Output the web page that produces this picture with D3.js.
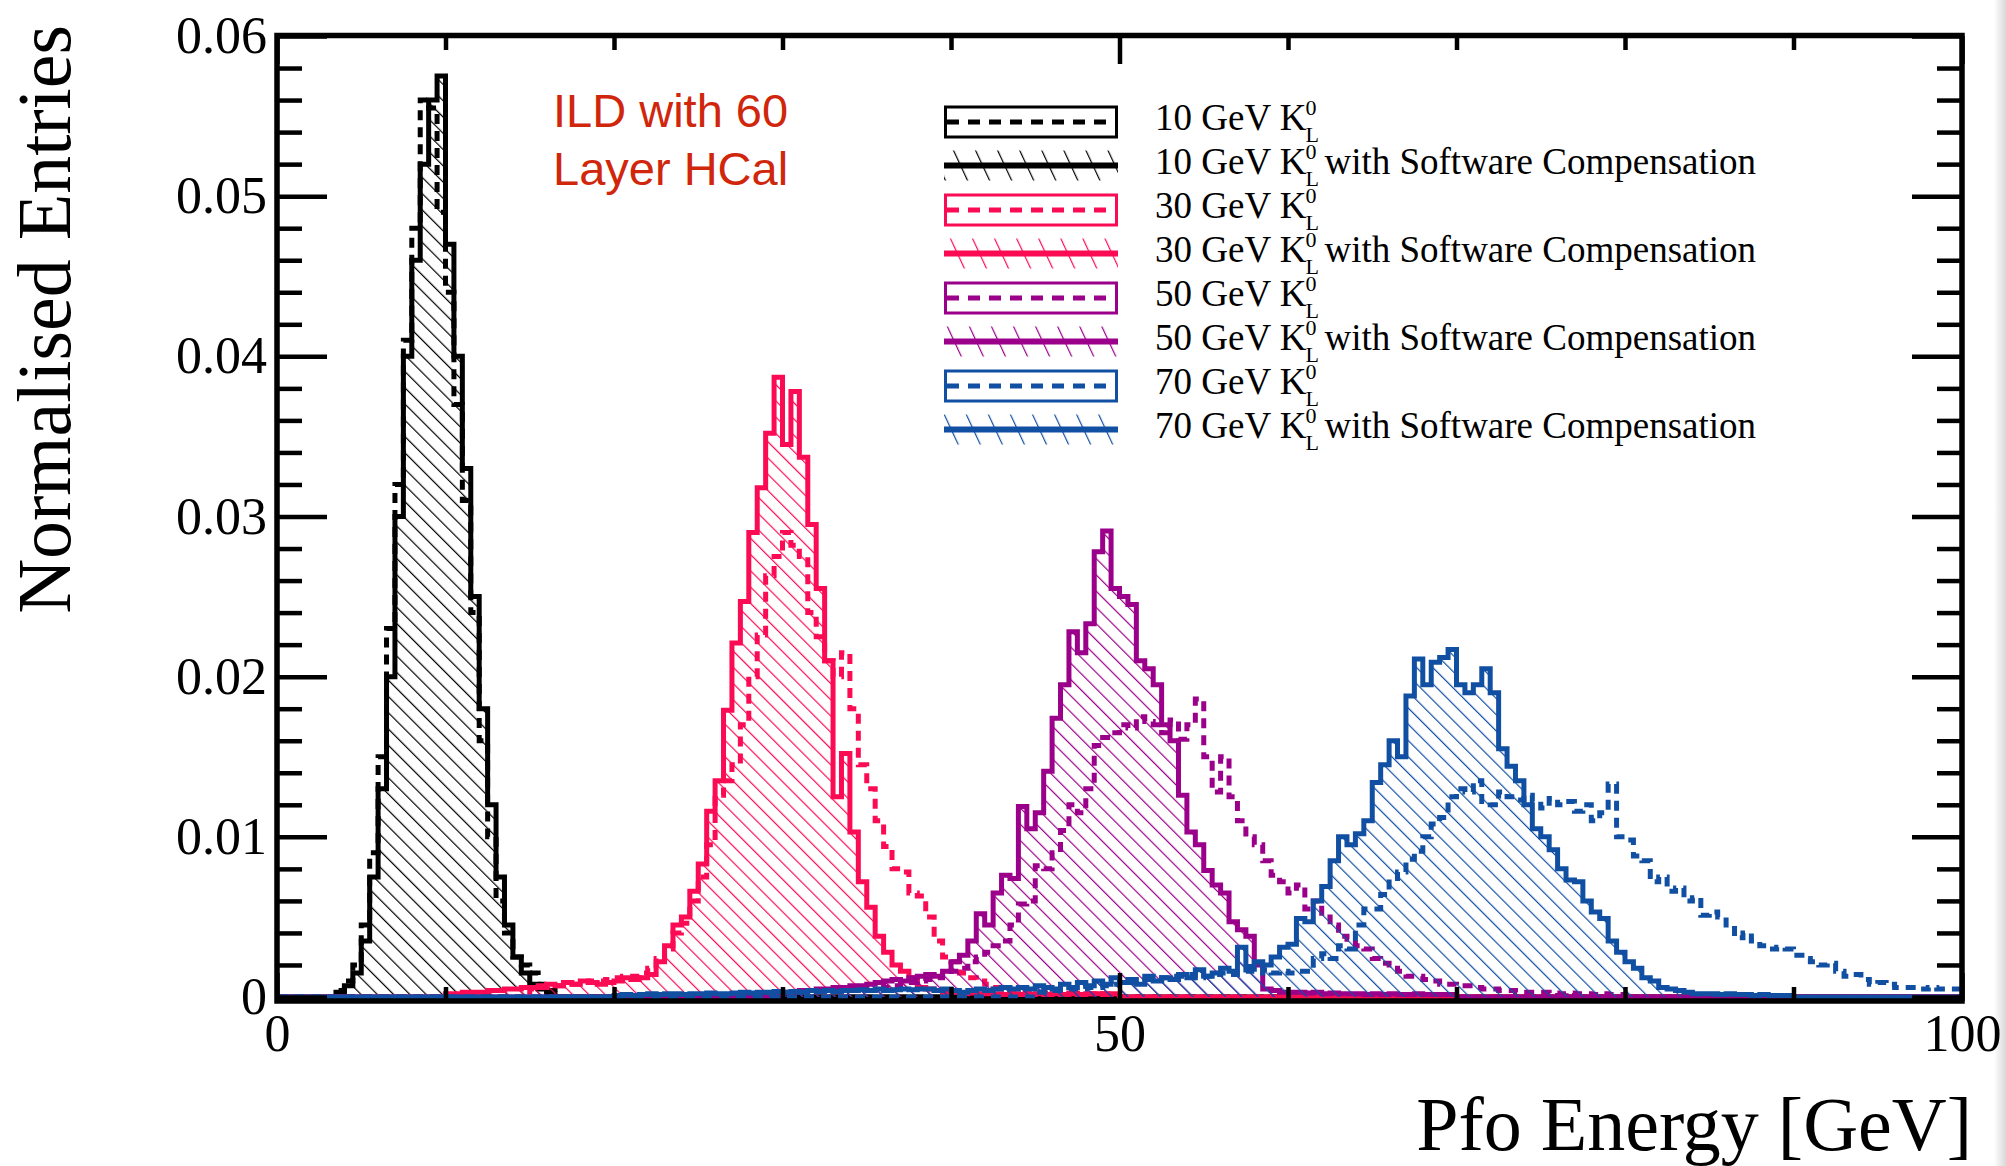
<!DOCTYPE html>
<html>
<head>
<meta charset="utf-8">
<script src="https://cdn.jsdelivr.net/npm/d3@7"></script>
<style>
  body { margin: 0; background: #fff; }
  svg { display: block; }
</style>
</head>
<body>
<svg id="chart" width="2006" height="1166"></svg>
<script>
// histogram binning: 0.5 GeV bins from 0 to 100 GeV
const BIN = 0.5;
const NBINS = 200;

const energyLabels = ["10", "30", "50", "70"];
const lineColors = ["#000000", "#fc0b55", "#9a0089", "#114fa2"];

// bin contents in units of 1e-3, first value belongs to the bin starting at *Start (GeV)
const k10Start = 3.5;
const k10 = [0.4, 1.0, 2.0, 4.5, 9.0, 15.0, 23.0, 32.0, 41.0, 48.0, 56.0, 55.5, 49.0, 44.0, 37.0, 31.0,
  24.0, 16.0, 10.0, 6.0, 4.0, 2.5, 2.0, 1.5, 0.8, 0.4];
const k10SCStart = 3.5;
const k10SC = [0.3, 0.7, 1.5, 3.5, 7.5, 13.0, 20.0, 30.0, 40.0, 46.0, 52.0, 56.0, 57.5, 47.0, 40.0, 33.0,
  25.0, 18.0, 12.0, 7.5, 4.5, 2.5, 1.5, 0.8, 0.5, 0.2];

const k30Start = 15.0;
const k30 = [0.5, 0.6, 0.6, 0.7, 0.8, 0.8, 0.9, 1.0, 1.0, 1.1,
  1.2, 1.3, 1.3, 1.5, 1.8, 2.4, 3.0, 4.0, 4.6, 6.0,
  7.5, 9.5, 12.6, 13.5, 14.5, 17.0, 20.0, 22.6, 26.3, 27.5,
  29.0, 28.2, 27.5, 24.0, 22.5, 21.0, 20.0, 21.5, 18.0, 14.5,
  13.0, 11.0, 9.4, 8.0, 7.8, 6.5, 6.3, 5.0, 3.5, 2.5,
  2.2, 1.5, 1.2, 1.0, 0.8, 0.6, 0.5, 0.4, 0.35, 0.3,
  0.3, 0.25, 0.3, 0.2, 0.25, 0.2, 0.2, 0.15, 0.2, 0.15];
const k30SCStart = 10.0;
const k30SC = [0.2, 0.2, 0.3, 0.3, 0.3, 0.4, 0.4, 0.5, 0.5, 0.6,
  0.6, 0.7, 0.8, 0.7, 0.9, 0.8, 1.0, 0.9, 0.8, 0.9,
  1.0, 1.2, 1.1, 1.2, 1.4, 2.2, 3.2, 4.5, 5.0, 6.6,
  8.3, 11.6, 13.5, 17.9, 22.1, 24.7, 29.0, 31.8, 35.2, 38.7,
  34.5, 37.8, 33.7, 29.5, 25.5, 21.0, 12.5, 15.2, 10.3, 7.2,
  5.6, 3.8, 2.8, 2.0, 1.6, 1.2, 0.6, 0.5, 0.4, 0.3,
  0.3, 0.2, 0.25, 0.2, 0.2, 0.2, 0.15, 0.2, 0.15, 0.15,
  0.2, 0.15, 0.2, 0.15, 0.2, 0.15, 0.2, 0.2, 0.15, 0.2];

const k50Start = 35.0;
const k50 = [0.4, 0.5, 0.6, 0.7, 0.8, 0.9, 1.0, 1.1, 1.2, 1.4,
  1.6, 1.8, 2.2, 2.5, 2.8, 3.2, 3.5, 4.5, 5.8, 6.0,
  8.2, 8.0, 9.0, 10.4, 12.0, 11.5, 13.0, 15.7, 16.2, 16.5,
  17.0, 16.8, 17.5, 17.2, 17.0, 16.5, 17.3, 16.1, 17.0, 18.6,
  15.0, 12.8, 15.0, 12.5, 11.0, 10.0, 9.5, 8.5, 7.6, 7.2,
  6.5, 7.0, 5.5, 6.0, 5.0, 4.5, 3.8, 3.6, 3.2, 3.0,
  2.4, 2.1, 2.0, 1.6, 1.3, 1.3, 1.1, 1.0, 0.8, 0.8,
  0.7, 0.7, 0.6, 0.5, 0.5, 0.4, 0.4, 0.3, 0.3, 0.3,
  0.3, 0.25, 0.2, 0.25, 0.2, 0.2, 0.15, 0.2, 0.15, 0.15];
const k50SCStart = 30.0;
const k50SC = [0.3, 0.3, 0.4, 0.4, 0.5, 0.5, 0.6, 0.6, 0.7, 0.7,
  0.8, 0.9, 1.0, 1.1, 1.0, 1.2, 1.3, 1.4, 1.3, 1.6,
  2.2, 2.6, 3.5, 5.2, 4.5, 6.5, 7.6, 7.4, 11.9, 10.5,
  11.5, 14.1, 17.4, 19.5, 22.8, 21.5, 23.3, 27.8, 29.1, 25.5,
  25.0, 24.5, 21.0, 20.5, 19.5, 17.0, 16.0, 12.6, 10.3, 9.5,
  7.9, 7.0, 6.5, 4.7, 4.2, 3.8, 2.0, 0.5, 0.4, 0.3,
  0.3, 0.3, 0.25, 0.3, 0.2, 0.25, 0.2, 0.2, 0.2, 0.15,
  0.2, 0.15, 0.2, 0.15, 0.15, 0.2, 0.15, 0.15, 0.15, 0.15];

const k70Start = 45.0;
const k70 = [0.3, 0.3, 0.4, 0.4, 0.5, 0.5, 0.6, 0.6, 0.7, 0.8,
  0.9, 0.9, 1.0, 1.1, 1.1, 1.2, 1.3, 1.3, 1.4, 1.2,
  1.3, 1.4, 1.5, 1.4, 1.5, 1.6, 1.5, 1.7, 1.5, 1.6,
  1.5, 1.6, 1.6, 2.4, 2.7, 2.4, 3.2, 3.0, 4.5, 5.5,
  5.5, 6.4, 7.4, 7.8, 8.6, 9.1, 10.0, 10.8, 11.2, 12.5,
  13.0, 12.8, 13.5, 12.2, 12.0, 12.8, 12.5, 12.3, 12.6, 12.2,
  11.8, 12.4, 12.0, 12.2, 11.6, 12.0, 11.0, 11.5, 13.3, 10.0,
  9.8, 8.8, 8.5, 7.2, 7.5, 6.6, 6.8, 6.0, 6.2, 5.1,
  5.3, 5.0, 4.5, 3.7, 4.0, 3.5, 3.2, 3.0, 3.1, 3.0,
  2.6, 2.4, 2.2, 2.0, 2.1, 1.6, 1.3, 1.4, 1.1, 0.8,
  0.9, 0.8, 0.6, 0.6, 0.6, 0.5, 0.6, 0.5, 0.5, 0.5];
const k70SCStart = 20.0;
const k70SC = [0.1, 0.15, 0.1, 0.15, 0.2, 0.15, 0.2, 0.2, 0.15, 0.2,
  0.2, 0.25, 0.2, 0.2, 0.25, 0.3, 0.25, 0.3, 0.3, 0.35,
  0.3, 0.35, 0.3, 0.4, 0.35, 0.4, 0.35, 0.4, 0.4, 0.45,
  0.4, 0.5, 0.4, 0.45, 0.5, 0.45, 0.5, 0.5, 0.4, 0.5,
  0.4, 0.3, 0.4, 0.5, 0.4, 0.5, 0.6, 0.5, 0.6, 0.5,
  0.7, 0.6, 0.5, 0.8, 0.6, 0.9, 0.7, 1.0, 0.8, 1.2,
  0.9, 1.1, 0.8, 1.3, 1.0, 1.2, 1.1, 1.4, 1.2, 1.7,
  1.3, 1.5, 1.8, 1.6, 3.1, 1.9, 2.2, 2.0, 2.5, 3.1,
  3.3, 4.9, 4.7, 6.0, 6.9, 8.5, 10.0, 9.5, 10.2, 11.0,
  13.4, 14.5, 16.0, 15.0, 18.8, 21.1, 19.5, 20.9, 21.2, 21.7,
  19.5, 19.0, 19.5, 20.5, 19.0, 15.5, 14.4, 13.5, 12.0, 10.5,
  10.0, 9.2, 8.0, 7.3, 7.2, 6.0, 5.3, 4.9, 3.5, 2.8,
  2.2, 1.8, 1.2, 1.0, 0.6, 0.5, 0.4, 0.3, 0.2, 0.2,
  0.2, 0.15, 0.2, 0.15, 0.15, 0.1, 0.15, 0.1, 0.1, 0.1];

const yMajorTicks = [0, 0.01, 0.02, 0.03, 0.04, 0.05, 0.06];
const yTickLabels = ["0", "0.01", "0.02", "0.03", "0.04", "0.05", "0.06"];
const xMajorTicks = [0, 50, 100];
const xTickLabels = ["0", "50", "100"];

const svg = d3.select("#chart");
const x = d3.scaleLinear().domain([0, 100]).range([277, 1962]);
const y = d3.scaleLinear().domain([0, 0.06]).range([997, 36]);
const serif = "'Liberation Serif', 'Times New Roman', serif";

function binsFor(start, vals) {
    const out = new Array(NBINS).fill(0);
    const first = Math.round(start / BIN);
    vals.forEach((v, i) => { out[first + i] = v / 1000; });
    return out;
}

function stepPoints(bins) {
    const pts = [[0, 0]];
    bins.forEach((v, i) => {
        pts.push([i * BIN, v]);
        pts.push([(i + 1) * BIN, v]);
    });
    pts.push([100, 0]);
    return pts;
}

function makePatterns() {
    const defs = svg.append("defs");
    lineColors.forEach((c, i) => {
        // hatch inside the plot
        const p = defs.append("pattern")
            .attr("id", "hatch" + i)
            .attr("patternUnits", "userSpaceOnUse")
            .attr("width", 11.5).attr("height", 40)
            .attr("patternTransform", "rotate(-45)");
        p.append("line")
            .attr("x1", 0.6).attr("y1", 0).attr("x2", 0.6).attr("y2", 40)
            .attr("stroke", c).attr("stroke-width", 1.2);
        // steeper hatch used in the legend boxes
        const q = defs.append("pattern")
            .attr("id", "lhatch" + i)
            .attr("patternUnits", "userSpaceOnUse")
            .attr("width", 20).attr("height", 40)
            .attr("patternTransform", "rotate(-25)");
        q.append("line")
            .attr("x1", 0.6).attr("y1", 0).attr("x2", 0.6).attr("y2", 40)
            .attr("stroke", c).attr("stroke-width", 1.2);
    });
    const g = defs.append("linearGradient").attr("id", "edge");
    g.append("stop").attr("offset", "0%").attr("stop-color", "#ffffff");
    g.append("stop").attr("offset", "100%").attr("stop-color", "#d8d8d8");
    defs.append("clipPath").attr("id", "plotclip")
        .append("rect").attr("x", 277).attr("y", 36).attr("width", 1685).attr("height", 966);
}

function drawHistograms() {
    const hists = [
        { bins: binsFor(k10Start, k10), c: 0, sc: false },
        { bins: binsFor(k10SCStart, k10SC), c: 0, sc: true },
        { bins: binsFor(k30Start, k30), c: 1, sc: false },
        { bins: binsFor(k30SCStart, k30SC), c: 1, sc: true },
        { bins: binsFor(k50Start, k50), c: 2, sc: false },
        { bins: binsFor(k50SCStart, k50SC), c: 2, sc: true },
        { bins: binsFor(k70Start, k70), c: 3, sc: false },
        { bins: binsFor(k70SCStart, k70SC), c: 3, sc: true }
    ];
    const line = d3.line().x(d => x(d[0])).y(d => y(d[1]));
    const area = d3.area().x(d => x(d[0])).y0(y(0)).y1(d => y(d[1]));
    const g = svg.append("g").attr("clip-path", "url(#plotclip)");

    hists.forEach(h => {
        const pts = stepPoints(h.bins);
        if (h.sc) {
            g.append("path").attr("d", area(pts))
                .attr("fill", "url(#hatch" + h.c + ")").attr("stroke", "none");
        }
        g.append("path").attr("d", line(pts))
            .attr("fill", "none")
            .attr("stroke", lineColors[h.c])
            .attr("stroke-width", 5)
            .attr("stroke-linejoin", "miter")
            .attr("stroke-dasharray", h.sc ? null : "10,7");
    });
}

function drawAxes() {
    const yMinor = d3.range(0, 0.0601, 0.002).filter(v => Math.abs(v * 100 - Math.round(v * 100)) > 1e-6);
    const xMinor = d3.range(10, 100, 10).filter(v => v !== 50);

    // left axis
    svg.append("g").attr("transform", "translate(277,0)")
        .call(d3.axisLeft(y).tickValues(yMajorTicks).tickSize(-50).tickPadding(10)
            .tickFormat((d, i) => yTickLabels[i]))
        .call(g => g.select(".domain").remove());
    svg.append("g").attr("transform", "translate(277,0)")
        .call(d3.axisLeft(y).tickValues(yMinor).tickSize(-25).tickFormat(""))
        .call(g => g.select(".domain").remove());
    // right axis
    svg.append("g").attr("transform", "translate(1962,0)")
        .call(d3.axisRight(y).tickValues(yMajorTicks).tickSize(-50).tickFormat(""))
        .call(g => g.select(".domain").remove());
    svg.append("g").attr("transform", "translate(1962,0)")
        .call(d3.axisRight(y).tickValues(yMinor).tickSize(-25).tickFormat(""))
        .call(g => g.select(".domain").remove());
    // bottom axis
    svg.append("g").attr("class", "xlab").attr("transform", "translate(0,1001)")
        .call(d3.axisBottom(x).tickValues(xMajorTicks).tickSize(-28).tickPadding(13)
            .tickFormat((d, i) => xTickLabels[i]))
        .call(g => g.select(".domain").remove());
    svg.append("g").attr("transform", "translate(0,1001)")
        .call(d3.axisBottom(x).tickValues(xMinor).tickSize(-14).tickFormat(""))
        .call(g => g.select(".domain").remove());
    // top axis
    svg.append("g").attr("transform", "translate(0,36)")
        .call(d3.axisTop(x).tickValues(xMajorTicks).tickSize(-28).tickFormat(""))
        .call(g => g.select(".domain").remove());
    svg.append("g").attr("transform", "translate(0,36)")
        .call(d3.axisTop(x).tickValues(xMinor).tickSize(-14).tickFormat(""))
        .call(g => g.select(".domain").remove());

    svg.selectAll(".tick line").attr("stroke", "#000").attr("stroke-width", 4.5);
    svg.selectAll(".tick text").attr("font-family", serif).attr("font-size", 52).attr("fill", "#000");

    // frame
    svg.append("rect")
        .attr("x", 277).attr("y", 35.5).attr("width", 1685).attr("height", 965.5)
        .attr("fill", "none").attr("stroke", "#000").attr("stroke-width", 5.5);

    // axis titles
    svg.append("text")
        .attr("x", 1972).attr("y", 1150)
        .attr("text-anchor", "end")
        .attr("font-family", serif).attr("font-size", 76)
        .text("Pfo Energy [GeV]");
    svg.append("text")
        .attr("transform", "translate(70,25) rotate(-90)")
        .attr("text-anchor", "end")
        .attr("font-family", serif).attr("font-size", 76)
        .text("Normalised Entries");
}

function drawLegend() {
    const g = svg.append("g");
    let row = 0;
    energyLabels.forEach((e, i) => {
        [false, true].forEach(sc => {
            const cy = 121.5 + 44 * row;
            if (sc) {
                g.append("rect").attr("x", 944).attr("y", cy - 15).attr("width", 174).attr("height", 30)
                    .attr("fill", "url(#lhatch" + i + ")");
                g.append("line").attr("x1", 944).attr("x2", 1118).attr("y1", cy).attr("y2", cy)
                    .attr("stroke", lineColors[i]).attr("stroke-width", 6);
            } else {
                g.append("rect").attr("x", 945.5).attr("y", cy - 14.5).attr("width", 171).attr("height", 30)
                    .attr("fill", "none").attr("stroke", lineColors[i]).attr("stroke-width", 3);
                g.append("line").attr("x1", 947).attr("x2", 1116).attr("y1", cy + 0.5).attr("y2", cy + 0.5)
                    .attr("stroke", lineColors[i]).attr("stroke-width", 5)
                    .attr("stroke-dasharray", "12,9");
            }
            const t = g.append("text").attr("x", 1155).attr("y", cy + 8.5)
                .attr("font-family", serif).attr("font-size", 37)
                .text(e + " GeV K");
            const w = t.node().getComputedTextLength();
            const kx = 1155 + w - 1;
            g.append("text").attr("x", kx).attr("y", cy - 6.5)
                .attr("font-family", serif).attr("font-size", 22).text("0");
            g.append("text").attr("x", kx).attr("y", cy + 20.5)
                .attr("font-family", serif).attr("font-size", 22).text("L");
            if (sc) {
                g.append("text").attr("x", 1155 + w + 18).attr("y", cy + 8.5)
                    .attr("font-family", serif).attr("font-size", 37)
                    .text("with Software Compensation");
            }
            row++;
        });
    });
}

function drawLabel() {
    const sans = "'Liberation Sans', Arial, sans-serif";
    svg.append("text").attr("x", 553).attr("y", 127)
        .attr("font-family", sans).attr("font-size", 47).attr("fill", "#d0260c")
        .text("ILD with 60");
    svg.append("text").attr("x", 553).attr("y", 185)
        .attr("font-family", sans).attr("font-size", 47).attr("fill", "#d0260c")
        .text("Layer HCal");
}

function makeChart() {
    svg.append("rect").attr("width", 2006).attr("height", 1166).attr("fill", "#fff");
    makePatterns();
    svg.append("rect").attr("x", 1994).attr("y", 0).attr("width", 12).attr("height", 1166)
        .attr("fill", "url(#edge)");
    drawHistograms();
    drawAxes();
    drawLegend();
    drawLabel();
}

makeChart();
</script>
</body>
</html>
